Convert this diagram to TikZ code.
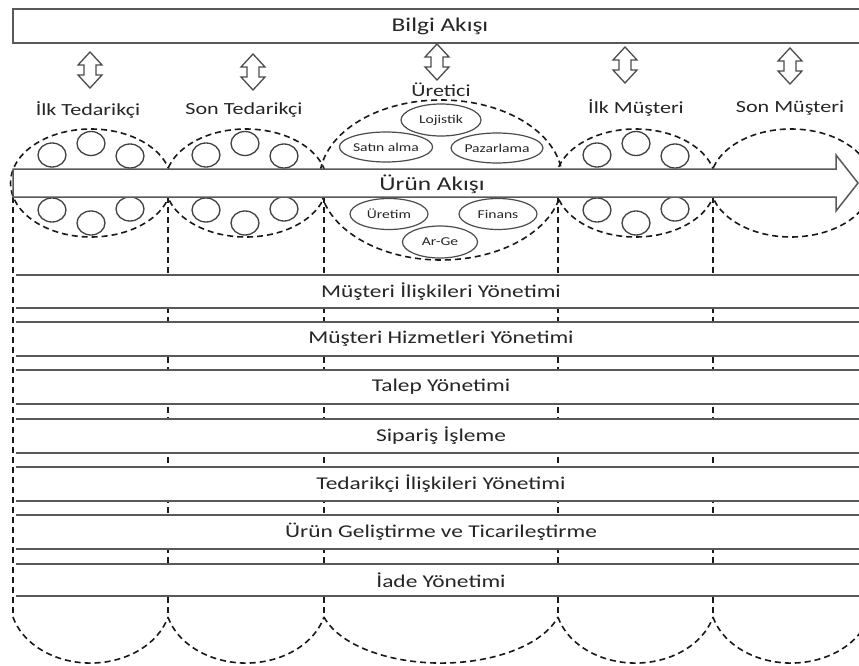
\documentclass[tikz,border=0pt]{standalone}
\usepackage{fontspec}
\setmainfont{Carlito}[FakeStretch=1.3]
\usetikzlibrary{shapes.geometric}
\begin{document}
\begin{tikzpicture}[x=1pt,y=-1pt,
  edge/.style={draw=black!65, line width=1.5pt},
  dsh/.style={draw=black!90, line width=1.6pt, dash pattern=on 6pt off 4pt},
  lbl/.style={font=\fontsize{18}{20}\selectfont, inner sep=0pt, text=black!85},
  who/.style={font=\fontsize{17}{20}\selectfont, inner sep=0pt, text=black!85},
  big/.style={font=\fontsize{19.5}{22}\selectfont, inner sep=0pt, text=black!85},
  small/.style={font=\fontsize{12}{14}\selectfont, text=black!85},
  oval/.style={ellipse, draw=black!70, line width=1.2pt, inner sep=0pt, small},
  bub/.style={draw=black!75, line width=1.3pt},
  updown/.style={draw=black!70, line width=1.3pt, fill=white}
]
\useasboundingbox (0,0) rectangle (859,666);
\clip (0,0) rectangle (859,666);
\fill[white] (0,0) rectangle (859,666);

% column boundaries between the chain members
\foreach \x in {13,168,324,558,713} \draw[dsh] (\x,197) -- (\x,617);

% lower ends of the columns
\foreach \c/\rr in {90.5/80.5, 246/81, 441/121.5, 635.5/80.5, 791/81}
  \draw[dsh] ({\c-0.9632*\rr},617) arc[start angle=164.4, end angle=15.6, x radius=\rr, y radius=63];

% chain members around the product flow
\foreach \c/\rr in {91/80.5, 246/81, 635.5/80.5, 791/81}
  \draw[dsh] (\c,183) ellipse[x radius=\rr, y radius=54];
\draw[dsh] (441,180) ellipse[x radius=121.5, y radius=80];

% functions inside the supplier and customer members
\foreach \c in {91,245,636} {
  \foreach \dx/\y in {-39/155, 0/143.5, 39/156, -39/210, 0/223, 39/209}
    \draw[bub] (\c+\dx,\y) ellipse[x radius=14, y radius=12];
}

% functions of the manufacturer
\node[oval, minimum width=80pt, minimum height=32pt] (lojistik) at (441,120) {Lojistik};
\node[oval, minimum width=75pt, minimum height=30pt] (satin) at (386,147) {Satın alma};
\node[oval, minimum width=78pt, minimum height=30pt] (pazar) at (497,148) {Pazarlama};
\node[oval, minimum width=78pt, minimum height=31pt] (uretim) at (389,214) {Üretim};
\node[oval, minimum width=78pt, minimum height=31pt] (finans) at (498,214) {Finans};
\node[oval, minimum width=75pt, minimum height=32pt] (arge) at (440,242) {Ar-Ge};

% product flow arrow
\draw[edge, fill=white] (13,169) -- (836,169) -- (836,155) -- (858,183) -- (836,211) -- (836,197) -- (13,197) -- cycle;
\node[big] (urun) at (432,184) {Ürün Akışı};

% business process bars
\foreach \t/\b in {275/308, 322/356, 370/404, 419/453, 467/501, 515/549, 564/596} {
  \fill[white] (16,\t) rectangle (870,\b);
  \draw[edge] (16,\t) -- (870,\t) (16,\b) -- (870,\b);
}
\node[lbl] (p1) at (441,292) {Müşteri İlişkileri Yönetimi};
\node[lbl] (p2) at (441,339) {Müşteri Hizmetleri Yönetimi};
\node[lbl] (p3) at (441,387) {Talep Yönetimi};
\node[lbl] (p4) at (441,436) {Sipariş İşleme};
\node[lbl] (p5) at (441,484) {Tedarikçi İlişkileri Yönetimi};
\node[lbl] (p6) at (441,532) {Ürün Geliştirme ve Ticarileştirme};
\node[lbl] (p7) at (441,580) {İade Yönetimi};

% information flow
\draw[edge, fill=white] (870,9) -- (13,9) -- (13,43) -- (870,43);
\node[big] (bilgi) at (440,26) {Bilgi Akışı};

% two-way links to the information flow
\foreach \x/\y in {90/70, 253/72, 437/62, 625/65, 790/66}
  \draw[updown] (\x,\y) ++(0,-18) -- ++(12,13) -- ++(-6,0) -- ++(0,10) -- ++(6,0)
    -- ++(-12,13) -- ++(-12,-13) -- ++(6,0) -- ++(0,-10) -- ++(-6,0) -- cycle;

% chain member names
\node[who] (ilkted) at (88,110) {İlk Tedarikçi};
\node[who] (sonted) at (244,110) {Son Tedarikçi};
\node[who] (uretici) at (441,90) {Üretici};
\node[who] (ilkmus) at (636,108) {İlk Müşteri};
\node[who] (sonmus) at (790,108) {Son Müşteri};
\end{tikzpicture}
\end{document}
